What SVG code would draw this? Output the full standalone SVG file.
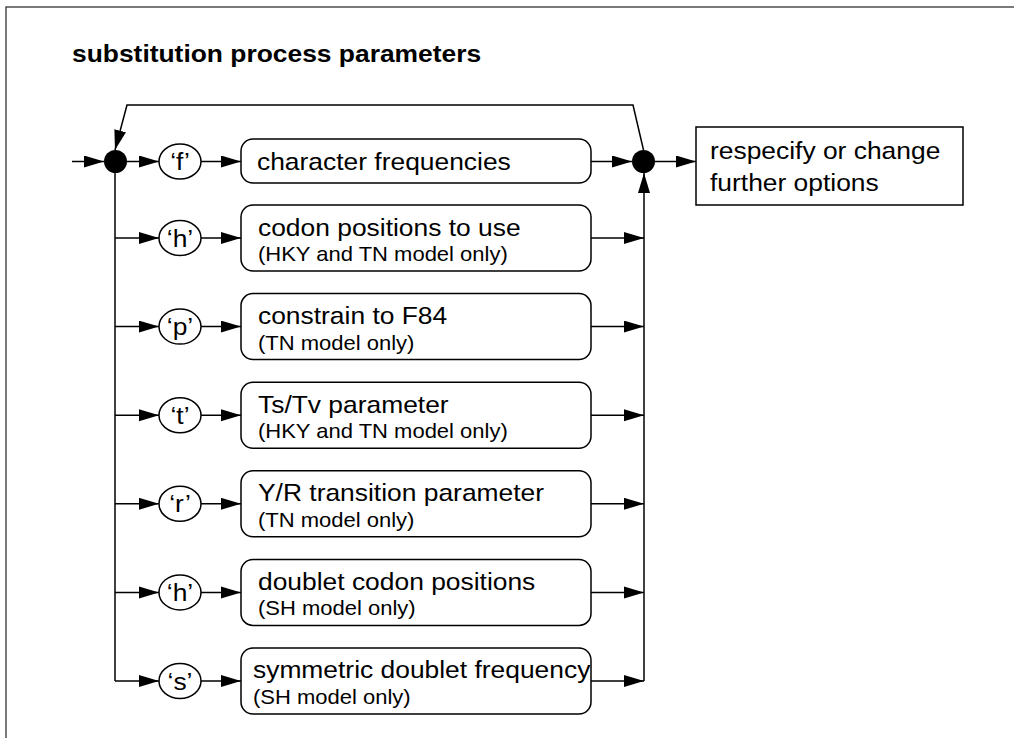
<svg xmlns="http://www.w3.org/2000/svg" width="1014" height="738" viewBox="0 0 1014 738">
<defs>
<style>
.frame{fill:none;stroke:#333;stroke-width:1.3}
.ln{fill:none;stroke:#000;stroke-width:1.5}
.arr{fill:none;stroke:#000;stroke-width:1.5;marker-end:url(#ah)}
.box{fill:#fff;stroke:#000;stroke-width:1.5}
.ell{fill:#fff;stroke:#000;stroke-width:1.5}
.dot{fill:#000}
.title{font-family:"Liberation Sans",Arial,sans-serif;font-weight:bold;font-size:24px;fill:#000}
.t{font-family:"Liberation Sans",Arial,sans-serif;font-size:24px;fill:#000}
.s{font-family:"Liberation Sans",Arial,sans-serif;font-size:20px;fill:#000}
.k{font-family:"Liberation Sans",Arial,sans-serif;font-size:24px;fill:#000;text-anchor:middle}
</style>
<marker id="ah" markerUnits="userSpaceOnUse" markerWidth="22" markerHeight="14" refX="20" refY="6" orient="auto">
<path d="M0,0 L20,6 L0,12 z" fill="#000"/>
</marker>
</defs>
<rect class="frame" x="6" y="7" width="1100" height="800"/>
<text class="title" transform="translate(72 62) scale(1.1 1)">substitution process parameters</text>

<g id="connectors">
<path class="arr" d="M72,161.5 H104"/>
<path class="arr" d="M643.5,150 L633,105 H127 L115,150"/>
<path class="ln" d="M115,161.5 V681"/>
<path class="arr" d="M127,161.5 H159"/>
<path class="arr" d="M201,161.5 H241"/>
<path class="arr" d="M591,161.5 H632"/>
<path class="arr" d="M655,161.5 H696"/>
<path class="arr" d="M644,681 V173"/>
<path class="arr" d="M115,238 H159"/><path class="arr" d="M201,238 H241"/><path class="arr" d="M591,238 H644"/>
<path class="arr" d="M115,326.6 H159"/><path class="arr" d="M201,326.6 H241"/><path class="arr" d="M591,326.6 H644"/>
<path class="arr" d="M115,415.2 H159"/><path class="arr" d="M201,415.2 H241"/><path class="arr" d="M591,415.2 H644"/>
<path class="arr" d="M115,503.8 H159"/><path class="arr" d="M201,503.8 H241"/><path class="arr" d="M591,503.8 H644"/>
<path class="arr" d="M115,592.4 H159"/><path class="arr" d="M201,592.4 H241"/><path class="arr" d="M591,592.4 H644"/>
<path class="arr" d="M115,681 H159"/><path class="arr" d="M201,681 H241"/><path class="arr" d="M591,681 H644"/>
</g>

<g id="dotL"><circle class="dot" cx="115.5" cy="161.5" r="11.5"/></g>
<g id="dotR"><circle class="dot" cx="643.5" cy="161.5" r="11.5"/></g>

<g id="key-f"><ellipse class="ell" cx="180" cy="161.5" rx="21" ry="17.5"/><text class="k" transform="translate(180 170) scale(1.1 1)">‘f’</text></g>
<g id="opt-f"><rect class="box" x="241" y="139" width="350" height="44" rx="12"/><text class="t" transform="translate(257 169.5) scale(1.1 1)">character frequencies</text></g>

<g id="key-h1"><ellipse class="ell" cx="180" cy="238" rx="21" ry="17.5"/><text class="k" transform="translate(180 246.5) scale(1.1 1)">‘h’</text></g>
<g id="opt-h1"><rect class="box" x="241" y="205" width="350" height="66" rx="12"/><text class="t" transform="translate(258 235.5) scale(1.1 1)">codon positions to use</text><text class="s" transform="translate(258 261) scale(1.1 1)">(HKY and TN model only)</text></g>

<g id="key-p"><ellipse class="ell" cx="180" cy="326.6" rx="21" ry="17.5"/><text class="k" transform="translate(180 335) scale(1.1 1)">‘p’</text></g>
<g id="opt-p"><rect class="box" x="241" y="293.6" width="350" height="66" rx="12"/><text class="t" transform="translate(258 324) scale(1.1 1)">constrain to F84</text><text class="s" transform="translate(258 349.5) scale(1.1 1)">(TN model only)</text></g>

<g id="key-t"><ellipse class="ell" cx="180" cy="415.2" rx="21" ry="17.5"/><text class="k" transform="translate(180 423.7) scale(1.1 1)">‘t’</text></g>
<g id="opt-t"><rect class="box" x="241" y="382.2" width="350" height="66" rx="12"/><text class="t" transform="translate(258 412.5) scale(1.1 1)">Ts/Tv parameter</text><text class="s" transform="translate(258 438) scale(1.1 1)">(HKY and TN model only)</text></g>

<g id="key-r"><ellipse class="ell" cx="180" cy="503.8" rx="21" ry="17.5"/><text class="k" transform="translate(180 512.3) scale(1.1 1)">‘r’</text></g>
<g id="opt-r"><rect class="box" x="241" y="470.8" width="350" height="66" rx="12"/><text class="t" transform="translate(258 501) scale(1.1 1)">Y/R transition parameter</text><text class="s" transform="translate(258 526.5) scale(1.1 1)">(TN model only)</text></g>

<g id="key-h2"><ellipse class="ell" cx="180" cy="592.4" rx="21" ry="17.5"/><text class="k" transform="translate(180 600.9) scale(1.1 1)">‘h’</text></g>
<g id="opt-h2"><rect class="box" x="241" y="559.4" width="350" height="66" rx="12"/><text class="t" transform="translate(258 589.5) scale(1.1 1)">doublet codon positions</text><text class="s" transform="translate(258 615) scale(1.1 1)">(SH model only)</text></g>

<g id="key-s"><ellipse class="ell" cx="180" cy="681" rx="21" ry="17.5"/><text class="k" transform="translate(180 689.5) scale(1.1 1)">‘s’</text></g>
<g id="opt-s"><rect class="box" x="241" y="648" width="350" height="66" rx="12"/><text class="t" transform="translate(253 678) scale(1.1 1)">symmetric doublet frequency</text><text class="s" transform="translate(253 703.5) scale(1.1 1)">(SH model only)</text></g>

<g id="next"><rect x="696" y="127" width="267" height="78" fill="#fff" stroke="#000" stroke-width="1.5"/><text class="t" transform="translate(710 159) scale(1.1 1)">respecify or change</text><text class="t" transform="translate(710 191) scale(1.1 1)">further options</text></g>
</svg>
